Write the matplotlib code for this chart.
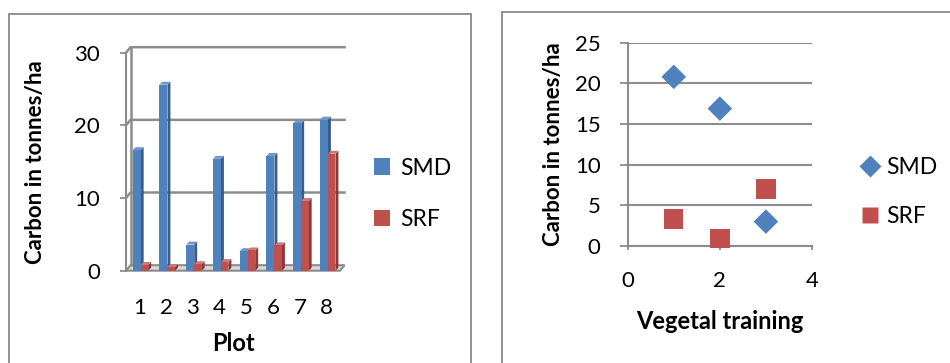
import matplotlib
matplotlib.use("Agg")
import matplotlib.pyplot as plt
from matplotlib.patches import Polygon, Rectangle, Patch
from matplotlib.lines import Line2D

plt.rcParams['font.family'] = ['Lato', 'DejaVu Sans']

# ---- data ----
plots = [1, 2, 3, 4, 5, 6, 7, 8]
smd_plot = [16.6, 25.6, 3.6, 15.4, 2.7, 15.8, 20.3, 20.8]
srf_plot = [0.8, 0.5, 0.9, 1.2, 2.8, 3.5, 9.6, 16.1]

veg = [1, 2, 3]
smd_veg = [20.8, 16.9, 3.0]
srf_veg = [3.3, 0.9, 7.0]

BLUE = '#4F81BD'
BLUE_SIDE = '#385D8A'
BLUE_TOP = '#7097CF'
RED = '#C0504D'
RED_SIDE = '#8C3836'
RED_TOP = '#D07875'
GRID = '#8C8C8C'
TXT = '#000000'

W, H = 950, 363
fig = plt.figure(figsize=(W / 100, H / 100), dpi=100)

def fx(px):
    return px / W

def fy(py):
    return 1 - py / H

# panel borders
fig.patches.append(Rectangle((fx(9), fy(365)), fx(471) - fx(9), fy(14) - fy(365),
                             transform=fig.transFigure, fill=False, ec='#8A8A8A', lw=1.3))
fig.patches.append(Rectangle((fx(502), fy(365)), fx(960) - fx(502), fy(12) - fy(365),
                             transform=fig.transFigure, fill=False, ec='#8A8A8A', lw=1.3))

# ---------------- left: 3D-like clustered columns ----------------
axL = fig.add_axes([fx(126), fy(270.7), fx(340) - fx(126), fy(52.7) - fy(270.7)])
axL.set_xlim(0.5, 8.5)
axL.set_ylim(0, 30)
for s in axL.spines.values():
    s.set_visible(False)
axL.patch.set_alpha(0)

dxw, dyw = 0.17, 0.76   # back wall offset
dxb, dyb = 0.11, 0.40   # bar depth offset

# floor
axL.add_patch(Polygon([(0.5, 0), (8.5, 0), (8.5 + dxw, dyw), (0.5 + dxw, dyw)],
                      closed=True, fc='#D9D9D9', ec=GRID, lw=1.5, clip_on=False, zorder=1))
# back wall line and gridlines
axL.plot([0.5 + dxw, 0.5 + dxw], [dyw, 30 + dyw], color=GRID, lw=1.8, clip_on=False, zorder=1)
for v in [10, 20, 30]:
    axL.plot([0.5, 0.5 + dxw, 8.5 + dxw], [v, v + dyw, v + dyw], color=GRID, lw=1.8,
             clip_on=False, zorder=1)
# front axis
axL.plot([0.5, 0.5], [0, 30], color=GRID, lw=1.5, clip_on=False, zorder=1)

def bar3d(ax, x0, x1, h, front, side, top):
    ax.add_patch(Polygon([(x1, 0), (x1 + dxb, dyb), (x1 + dxb, h + dyb), (x1, h)],
                         closed=True, fc=side, ec='none', clip_on=False, zorder=3))
    ax.add_patch(Polygon([(x0, h), (x1, h), (x1 + dxb, h + dyb), (x0 + dxb, h + dyb)],
                         closed=True, fc=top, ec='none', clip_on=False, zorder=3))
    ax.add_patch(Rectangle((x0, 0), x1 - x0, h, fc=front, ec='none', clip_on=False, zorder=3))

for c, a, b in zip(plots, smd_plot, srf_plot):
    bar3d(axL, c - 0.25, c + 0.05, a, BLUE, BLUE_SIDE, BLUE_TOP)
    bar3d(axL, c + 0.05, c + 0.33, b, RED, RED_SIDE, RED_TOP)

axL.set_yticks([0, 10, 20, 30])
axL.set_xticks(plots)
axL.set_xticklabels([str(p) for p in plots])
axL.tick_params(axis='y', length=4.3, width=1.3, color=GRID, pad=14.5, labelsize=16, labelcolor=TXT)
axL.tick_params(axis='x', length=0, pad=20, labelsize=16, labelcolor=TXT)
axL.set_ylabel('Carbon in tonnes/ha', fontsize=16, fontweight='bold', labelpad=20)
axL.set_xlabel('Plot', fontsize=17, fontweight='bold', labelpad=10)

legL = fig.legend(handles=[Patch(fc=BLUE, ec='none'), Patch(fc=RED, ec='none')],
                  labels=['SMD', 'SRF'], loc='center left',
                  bbox_to_anchor=(fx(353), fy(194)), frameon=False, fontsize=16.5,
                  handlelength=0.7, handleheight=0.7, handletextpad=0.45, labelspacing=1.35)

# ---------------- right: scatter ----------------
axR = fig.add_axes([fx(627.7), fy(246), fx(812) - fx(627.7), fy(42.7) - fy(246)])
axR.set_xlim(0, 4)
axR.set_ylim(0, 25)
axR.set_yticks([0, 5, 10, 15, 20, 25])
axR.set_xticks([0, 2, 4])
for k in ['top', 'right']:
    axR.spines[k].set_visible(False)
for k in ['left', 'bottom']:
    axR.spines[k].set_color(GRID)
    axR.spines[k].set_linewidth(1.5)
axR.yaxis.grid(True, color=GRID, lw=1.5)
axR.set_axisbelow(True)
axR.patch.set_alpha(0)
axR.tick_params(axis='y', length=5.5, width=1.3, color=GRID, pad=14, labelsize=16, labelcolor=TXT)
axR.tick_params(axis='x', length=3, width=1.3, color=GRID, pad=15, labelsize=16, labelcolor=TXT)
axR.scatter(veg, smd_veg, marker='D', s=12.5 ** 2, c=BLUE, edgecolors='none', zorder=3, clip_on=False)
axR.scatter(veg, srf_veg, marker='s', s=14 ** 2, c=RED, edgecolors='none', zorder=3, clip_on=False)
axR.set_ylabel('Carbon in tonnes/ha', fontsize=16, fontweight='bold', labelpad=8)
axR.set_xlabel('Vegetal training', fontsize=17, fontweight='bold', labelpad=14)

legR = fig.legend(handles=[Line2D([], [], ls='none', marker='D', ms=11, mfc=BLUE, mec='none'),
                           Line2D([], [], ls='none', marker='s', ms=12, mfc=RED, mec='none')],
                  labels=['SMD', 'SRF'], loc='center left',
                  bbox_to_anchor=(fx(840), fy(192)), frameon=False, fontsize=16.5,
                  handlelength=0.8, handletextpad=0.3, labelspacing=1.2)

fig.savefig('out.png', dpi=100)
